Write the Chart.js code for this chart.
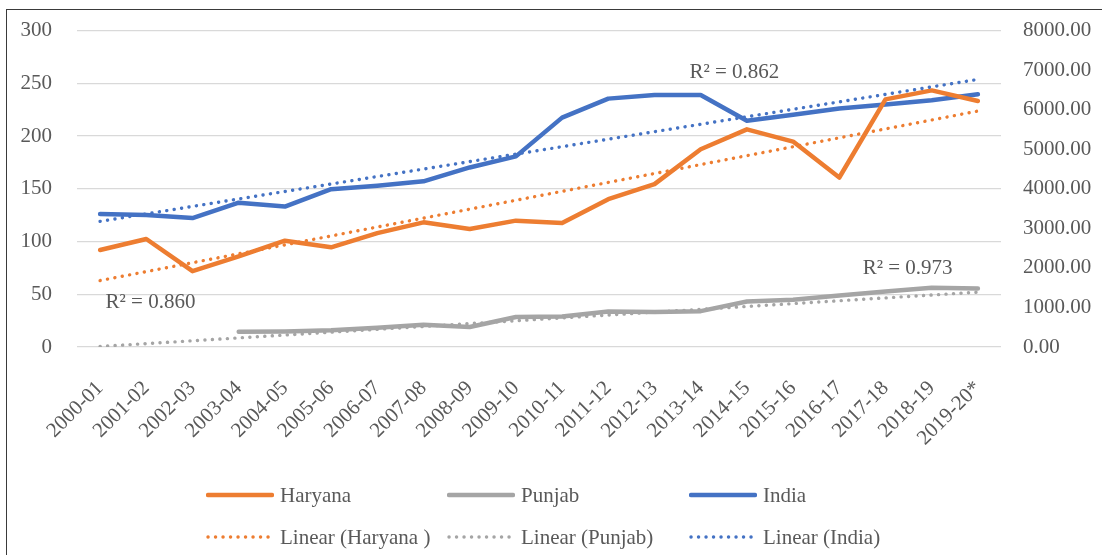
<!DOCTYPE html>
<html>
<head>
<meta charset="utf-8">
<script src="https://cdn.jsdelivr.net/npm/chart.js@4"></script>
<style>
  html, body { margin: 0; padding: 0; background: #fff; }
  #wrap { position: relative; width: 1102px; height: 555px; overflow: hidden; }
  #frame { position: absolute; left: 6px; top: 9px; width: 1200px; height: 700px; border: 1.5px solid #3a3a3a; box-sizing: border-box; }
  canvas { position: absolute; left: 0; top: -7px; }
  #legend { position: absolute; left: 0; top: 0; font: 21px "Liberation Serif", "Times New Roman", serif; color: #595959; }
  .item { position: absolute; display: flex; align-items: center; white-space: nowrap; height: 30px; }
  .item svg { margin-right: 6px; }
</style>
</head>
<body>
<div id="wrap">
  <div id="frame"></div>
  <canvas id="chart" width="1102" height="555"></canvas>
  <div id="legend"></div>
</div>
<script>
// values
const years = ['2000-01', '2001-02', '2002-03', '2003-04', '2004-05', '2005-06', '2006-07',
  '2007-08', '2008-09', '2009-10', '2010-11', '2011-12', '2012-13', '2013-14', '2014-15',
  '2015-16', '2016-17', '2017-18', '2018-19', '2019-20*'];

// left axis
const haryana = [92, 102.4, 71.9, 86, 100.8, 94.5, 108, 118.2, 111.9, 119.8,
  117.6, 140.2, 154.4, 187.5, 206.4, 194.8, 160.7, 234.8, 243.3, 233.2];
const punjab = [null, null, null, 14.5, 14.8, 15.8, 18.3, 21.1, 18.9, 28.4,
  29, 33.7, 33.1, 34, 43.2, 44.8, 48.8, 52.6, 56.2, 55.5];
// right axis
const india = [3360, 3340, 3260, 3650, 3550, 3990, 4080, 4190, 4540, 4820,
  5800, 6280, 6370, 6370, 5720, 5870, 6030, 6130, 6240, 6390];

// linear trend lines: value at first and last category
const haryanaTrend = [63, 223.7];
const punjabTrend = [0.5, 52];
const indiaTrend = [3176, 6765];

const r2Texts = ['R\u00b2 = 0.860', 'R\u00b2 = 0.862', 'R\u00b2 = 0.973'];

const leftMax = 300, leftStep = 50;
const rightMax = 8000, rightStep = 1000;

const ORANGE = '#ED7D31', GREY = '#A5A5A5', BLUE = '#4472C4';
const FONT = '"Liberation Serif", "Times New Roman", serif';
const TEXT = '#595959';

function trend(ends) {
  const d = years.map(() => null);
  d[0] = ends[0];
  d[d.length - 1] = ends[1];
  return d;
}

function solid(label, data, color, axis) {
  return {
    label: label, data: data, yAxisID: axis, borderColor: color, backgroundColor: color,
    borderWidth: 4.5, pointRadius: 0, tension: 0, order: 2,
    borderCapStyle: 'round', borderJoinStyle: 'round', kind: 'solid'
  };
}
function dotted(label, data, color, axis) {
  return {
    label: label, data: data, yAxisID: axis, borderColor: color, backgroundColor: color,
    borderWidth: 3.4, pointRadius: 0, tension: 0, order: 1, spanGaps: true,
    borderDash: [0.1, 7.4], borderCapStyle: 'round', kind: 'dot'
  };
}

const r2Plugin = {
  id: 'r2labels',
  afterDatasetsDraw(chart, args, opts) {
    const ctx = chart.ctx, x = chart.scales.x, y = chart.scales.y;
    ctx.save();
    ctx.font = '21px ' + FONT;
    ctx.fillStyle = TEXT;
    ctx.textAlign = 'center';
    ctx.textBaseline = 'middle';
    opts.items.forEach(it => {
      ctx.fillText(it.text, x.getPixelForValue(it.at), y.getPixelForValue(it.val));
    });
    ctx.restore();
  }
};

const chart = new Chart(document.getElementById('chart'), {
  type: 'line',
  data: {
    labels: years,
    datasets: [
      solid('Haryana', haryana, ORANGE, 'y'),
      solid('Punjab', punjab, GREY, 'y'),
      solid('India', india, BLUE, 'y1'),
      dotted('Linear (Haryana )', trend(haryanaTrend), ORANGE, 'y'),
      dotted('Linear (Punjab)', trend(punjabTrend), GREY, 'y'),
      dotted('Linear (India)', trend(indiaTrend), BLUE, 'y1')
    ]
  },
  options: {
    responsive: false,
    animation: false,
    layout: { padding: { top: 15, left: 0, right: 0, bottom: 0 } },
    plugins: {
      legend: { display: false },
      tooltip: { enabled: false },
      r2labels: {
        items: [
          { text: r2Texts[0], at: 1.09, val: 42.5 },
          { text: r2Texts[1], at: 13.73, val: 260 },
          { text: r2Texts[2], at: 17.48, val: 74.4 }
        ]
      }
    },
    scales: {
      x: {
        offset: true,
        grid: { display: false },
        border: { display: false },
        ticks: {
          autoSkip: false, minRotation: 45, maxRotation: 45, padding: 21,
          color: TEXT, font: { family: FONT, size: 21 }
        },
        afterFit(s) { s.height = 201; }
      },
      y: {
        position: 'left', min: 0, max: leftMax,
        grid: { color: '#D9D9D9', lineWidth: 1.3, drawTicks: false },
        border: { display: false },
        ticks: { stepSize: leftStep, padding: 25, color: TEXT, font: { family: FONT, size: 21 } },
        afterFit(s) { s.width = 77; }
      },
      y1: {
        position: 'right', min: 0, max: rightMax,
        grid: { display: false, drawTicks: false },
        border: { display: false },
        ticks: {
          stepSize: rightStep, padding: 22, color: TEXT, font: { family: FONT, size: 21 },
          callback: v => v.toFixed(2)
        },
        afterFit(s) { s.width = 101; }
      }
    }
  },
  plugins: [r2Plugin]
});

// legend in three aligned columns, built from the datasets
const legendCols = [206, 447, 689];
const legendRows = [495, 537];
const legendBox = document.getElementById('legend');
chart.data.datasets.forEach((ds, i) => {
  const el = document.createElement('div');
  el.className = 'item';
  el.style.left = legendCols[i % 3] + 'px';
  el.style.top = (legendRows[Math.floor(i / 3)] - 15) + 'px';
  const dash = ds.kind === 'dot' ? 'stroke-dasharray="0.1 7.4"' : '';
  const w = ds.kind === 'dot' ? 3.4 : 4.5;
  el.innerHTML = '<svg width="68" height="10"><line x1="2" y1="5" x2="66" y2="5" stroke="' +
    ds.borderColor + '" stroke-width="' + w + '" stroke-linecap="round" ' + dash + '/></svg>' +
    '<span>' + ds.label + '</span>';
  legendBox.appendChild(el);
});
</script>
</body>
</html>
